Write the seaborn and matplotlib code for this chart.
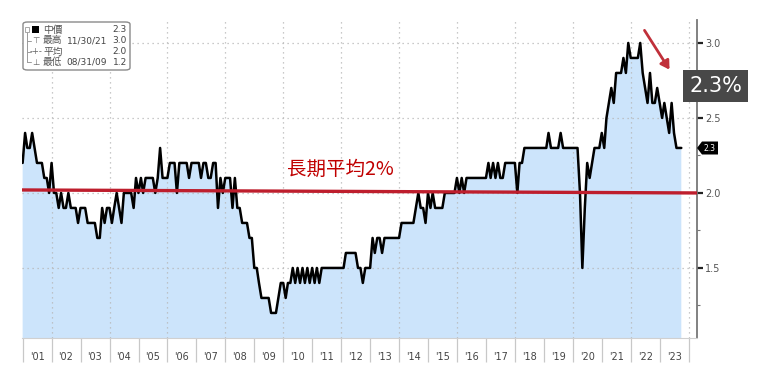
import numpy as np
import pandas as pd
import matplotlib
matplotlib.use("Agg")
import matplotlib.pyplot as plt
import matplotlib.dates as mdates
from matplotlib.patches import FancyBboxPatch, Rectangle, Polygon
import seaborn as sns

# monthly values, month-end from 12/2000 to 09/2023
y2001 = [2.2, 2.4, 2.3, 2.3, 2.4, 2.3, 2.2, 2.2, 2.2, 2.1, 2.1, 2.0]
y2002 = [2.2, 2.0, 2.0, 1.9, 2.0, 1.9, 1.9, 2.0, 1.9, 1.9, 1.9, 1.8]
y2003 = [1.9, 1.9, 1.9, 1.8, 1.8, 1.8, 1.8, 1.7, 1.7, 1.9, 1.8, 1.9]
y2004 = [1.9, 1.8, 1.9, 2.0, 1.9, 1.8, 2.0, 2.0, 2.0, 2.0, 1.9, 2.1]
y2005 = [2.0, 2.1, 2.0, 2.1, 2.1, 2.1, 2.1, 2.0, 2.1, 2.3, 2.1, 2.1]
y2006 = [2.1, 2.2, 2.2, 2.2, 2.0, 2.2, 2.2, 2.2, 2.2, 2.1, 2.2, 2.2]
y2007 = [2.2, 2.2, 2.1, 2.2, 2.2, 2.1, 2.1, 2.2, 2.2, 1.9, 2.1, 2.0]
y2008 = [2.1, 2.1, 2.1, 1.9, 2.1, 1.9, 1.9, 1.8, 1.8, 1.8, 1.7, 1.7]
y2009 = [1.5, 1.5, 1.4, 1.3, 1.3, 1.3, 1.3, 1.2, 1.2, 1.2, 1.3, 1.4]
y2010 = [1.4, 1.3, 1.4, 1.4, 1.5, 1.4, 1.5, 1.4, 1.5, 1.4, 1.5, 1.4]
y2011 = [1.5, 1.4, 1.5, 1.4, 1.5, 1.5, 1.5, 1.5, 1.5, 1.5, 1.5, 1.5]
y2012 = [1.5, 1.5, 1.6, 1.6, 1.6, 1.6, 1.6, 1.5, 1.5, 1.4, 1.5, 1.5]
y2013 = [1.5, 1.7, 1.6, 1.7, 1.7, 1.6, 1.7, 1.7, 1.7, 1.7, 1.7, 1.7]
y2014 = [1.7, 1.8, 1.8, 1.8, 1.8, 1.8, 1.8, 1.9, 2.0, 1.9, 1.9, 1.8]
y2015 = [2.0, 1.9, 2.0, 1.9, 1.9, 1.9, 1.9, 2.0, 2.0, 2.0, 2.0, 2.0]
y2016 = [2.1, 2.0, 2.1, 2.0, 2.1, 2.1, 2.1, 2.1, 2.1, 2.1, 2.1, 2.1]
y2017 = [2.1, 2.2, 2.1, 2.2, 2.1, 2.2, 2.1, 2.1, 2.2, 2.2, 2.2, 2.2]
y2018 = [2.2, 2.0, 2.2, 2.2, 2.3, 2.3, 2.3, 2.3, 2.3, 2.3, 2.3, 2.3]
y2019 = [2.3, 2.3, 2.4, 2.3, 2.3, 2.3, 2.3, 2.4, 2.3, 2.3, 2.3, 2.3]
y2020 = [2.3, 2.3, 2.3, 2.0, 1.5, 1.9, 2.2, 2.1, 2.2, 2.3, 2.3, 2.3]
y2021 = [2.4, 2.3, 2.5, 2.6, 2.7, 2.6, 2.8, 2.8, 2.8, 2.9, 2.8, 3.0]
y2022 = [2.9, 2.9, 2.9, 2.9, 3.0, 2.8, 2.7, 2.6, 2.8, 2.6, 2.6, 2.7]
y2023 = [2.6, 2.5, 2.6, 2.5, 2.4, 2.6, 2.4, 2.3, 2.3, 2.3]

long_term_avg = [2.02, 2.0]   # the red reference line, drawn slightly tilted
year_labels = ["'%02d" % (y % 100) for y in range(2001, 2024)]
y_ticks = [1.5, 2.0, 2.5, 3.0]

legend_rows = [("中價", "", "2.3"), ("最高", "11/30/21", "3.0"),
               ("平均", "", "2.0"), ("最低", "08/31/09", "1.2")]

values = np.concatenate([y2001, y2002, y2003, y2004, y2005, y2006, y2007, y2008,
                         y2009, y2010, y2011, y2012, y2013, y2014, y2015, y2016,
                         y2017, y2018, y2019, y2020, y2021, y2022, y2023])
dates = pd.date_range("2001-01-01", periods=len(values), freq="MS") - pd.Timedelta(days=1)
df = pd.DataFrame({"date": dates, "value": values})

sns.set_style("white")
plt.rcParams["font.family"] = ["DejaVu Sans", "Noto Sans CJK TC"]
cjk = ["Noto Sans CJK TC", "DejaVu Sans"]

W, H = 763, 371
def fx(x):
    return x / W
def fy(y):
    return 1 - y / H

fig = plt.figure(figsize=(W / 100, H / 100), dpi=100)
ax = fig.add_axes([fx(22), fy(338), (697 - 22) / W, (338 - 20) / H])

x_left = pd.Timestamp("2000-12-23")
x_right = pd.Timestamp("2024-04-15")

ax.fill_between(df["date"], df["value"], 0, color="#cce4fb", lw=0, zorder=1)
sns.lineplot(data=df, x="date", y="value", ax=ax, color="black", lw=1.8, zorder=4)
ax.plot([x_left, x_right], long_term_avg, color="#be1e2d", lw=2.4, zorder=5,
        solid_capstyle="butt")

ax.set_xlim(x_left, x_right)
ax.set_ylim(1.033, 3.153)

# grid: dotted, vertical every two years
for yr in range(2002, 2025, 2):
    ax.axvline(pd.Timestamp(f"{yr}-01-01"), color="#b8b8b8", lw=0.9,
               ls=(0, (1, 3)), zorder=2)
for v in y_ticks:
    ax.axhline(v, color="#b8b8b8", lw=0.9, ls=(0, (1, 3)), zorder=2)

# x axis: year separators + centered labels
ax.xaxis.set_major_locator(mdates.YearLocator(1))
ax.xaxis.set_major_formatter(plt.NullFormatter())
ax.set_xticks([pd.Timestamp(f"{y}-07-01") for y in range(2001, 2024)], minor=True)
ax.set_xticklabels(year_labels, minor=True)
ax.tick_params(axis="x", which="both", bottom=True, top=False)
ax.tick_params(axis="x", which="major", length=17, width=0.9, color="#c8c8c8",
               direction="out")
ax.tick_params(axis="x", which="minor", length=0, pad=10, labelsize=7,
               labelcolor="#444444")

# y axis on the right
ax.yaxis.tick_right()
ax.set_yticks(y_ticks)
ax.set_yticklabels(["%.1f" % v for v in y_ticks])
ax.set_yticks([1.25, 1.75, 2.25, 2.75], minor=True)
ax.tick_params(axis="y", which="both", right=True, left=False)
ax.tick_params(axis="y", which="major", length=4, width=1.6, color="#222222",
               direction="out", labelsize=7, labelcolor="#555555", pad=2)
ax.tick_params(axis="y", which="minor", length=2, width=0.8, color="#777777",
               direction="out")
ax.set_xlabel("")
ax.set_ylabel("")

for side in ["left", "top"]:
    ax.spines[side].set_visible(False)
ax.spines["right"].set_color("#777777")
ax.spines["right"].set_linewidth(1.3)
ax.spines["bottom"].set_color("#d0d0d0")
ax.spines["bottom"].set_linewidth(0.8)

# long-term average label
fig.text(fx(287), fy(169), "長期平均2%", color="#c00000", fontsize=14,
         family=cjk, va="center", ha="left")

# red arrow and the 2.3% callout
fig.add_artist(matplotlib.patches.FancyArrowPatch(
    (fx(643), fy(28)), (fx(671), fy(72)), transform=fig.transFigure,
    arrowstyle="-|>,head_length=5,head_width=3", color="#c0303a", lw=2))
fig.add_artist(Rectangle((fx(683), fy(102)), 65 / W, 32 / H,
                         transform=fig.transFigure, color="#484848", lw=0))
fig.text(fx(715.5), fy(86), "2.3%", color="white", fontsize=15,
         ha="center", va="center")

# last-value tag on the axis
tag_y = 148
fig.add_artist(Polygon([(fx(697), fy(tag_y)), (fx(702), fy(tag_y - 6.5)),
                        (fx(718), fy(tag_y - 6.5)), (fx(718), fy(tag_y + 6.5)),
                        (fx(702), fy(tag_y + 6.5))], closed=True,
                       transform=fig.transFigure, color="black", lw=0))
fig.text(fx(710), fy(tag_y), "2.3", color="white", fontsize=5.5,
         ha="center", va="center")

# legend box (Bloomberg style)
fig.add_artist(FancyBboxPatch((fx(23), fy(70)), 107 / W, 48 / H,
                              boxstyle="round,pad=0,rounding_size=0.006",
                              transform=fig.transFigure, facecolor="white",
                              edgecolor="#8a8a8a", lw=1.0, zorder=10))
row_y = [29.5, 40.5, 51.5, 62.3]
fig.add_artist(plt.Line2D([fx(27), fx(27)], [fy(32), fy(row_y[3])],
                          transform=fig.transFigure, color="#9a9a9a", lw=0.7, zorder=11))
for ry in row_y[1:]:
    fig.add_artist(plt.Line2D([fx(27), fx(31)], [fy(ry), fy(ry)],
                              transform=fig.transFigure, color="#9a9a9a", lw=0.7, zorder=11))
fig.add_artist(Rectangle((fx(25), fy(row_y[0] + 2.5)), 4.5 / W, 5 / H,
                         transform=fig.transFigure, facecolor="white",
                         edgecolor="#9a9a9a", lw=0.6, zorder=11))
fig.add_artist(Rectangle((fx(32), fy(row_y[0] + 3.5)), 7 / W, 7 / H,
                         transform=fig.transFigure, color="black", lw=0, zorder=11))
icons = ["", "⊤", "-+-", "⊥"]
for (name, date_txt, val), ry, ic in zip(legend_rows, row_y, icons):
    if ic:
        fig.text(fx(36), fy(ry), ic, fontsize=6, color="#666666", ha="center",
                 va="center", zorder=12)
    fig.text(fx(43), fy(ry), name, fontsize=7, color="#555555", family=cjk,
             ha="left", va="center", zorder=12)
    if date_txt:
        fig.text(fx(107), fy(ry), date_txt, fontsize=6.5, color="#444444",
                 ha="right", va="center", zorder=12)
    fig.text(fx(127), fy(ry), val, fontsize=6.5, color="#444444",
             ha="right", va="center", zorder=12)

fig.savefig("out.png", dpi=100)
